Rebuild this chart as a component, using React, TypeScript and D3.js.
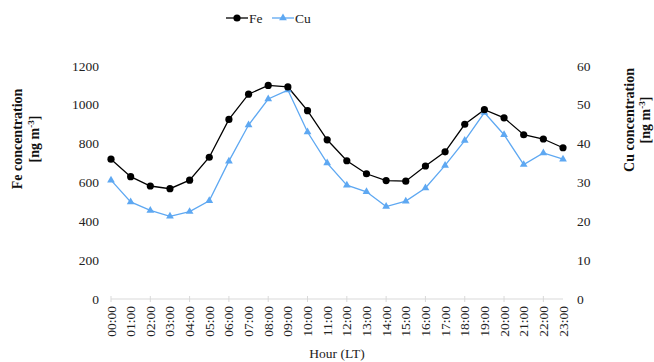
import React, { useEffect, useRef } from "react";
import * as d3 from "d3";

const hours = ["00:00","01:00","02:00","03:00","04:00","05:00","06:00","07:00","08:00","09:00","10:00","11:00","12:00","13:00","14:00","15:00","16:00","17:00","18:00","19:00","20:00","21:00","22:00","23:00"];
const feValues = [720, 630, 582, 568, 612, 730, 925, 1055, 1100, 1092, 970, 820, 712, 645, 610, 607, 685, 758, 900, 975, 933, 846, 824, 779];
const cuValues = [30.6, 25.0, 22.8, 21.3, 22.5, 25.3, 35.5, 44.8, 51.5, 53.8, 43.0, 35.0, 29.3, 27.6, 23.8, 25.2, 28.6, 34.4, 40.8, 48.0, 42.3, 34.6, 37.6, 36.0];
const leftTicks = [0, 200, 400, 600, 800, 1000, 1200];
const rightTicks = [0, 10, 20, 30, 40, 50, 60];

const FONT = "Liberation Serif, Times New Roman, serif";
const CU_COLOR = "#5ea8f2";

export default function App() {
  const ref = useRef<SVGSVGElement>(null);
  useEffect(() => {
    const svg = d3.select(ref.current);
    svg.selectAll("*").remove();
    const x0 = 111, x1 = 563, yTop = 66, yBot = 299;
    const x = d3.scalePoint<string>().domain(hours).range([x0, x1]);
    const yL = d3.scaleLinear().domain([0, 1200]).range([yBot, yTop]);
    const yR = d3.scaleLinear().domain([0, 60]).range([yBot, yTop]);

    svg.append("line").attr("x1", x0).attr("x2", x1).attr("y1", yBot).attr("y2", yBot)
      .attr("stroke", "#d9d9d9").attr("stroke-width", 1);
    hours.forEach((h, i) => {
      if (i % 2 === 0) {
        svg.append("line").attr("x1", x(h)!).attr("x2", x(h)!).attr("y1", yBot - 3).attr("y2", yBot + 3)
          .attr("stroke", "#d9d9d9").attr("stroke-width", 1);
      }
      svg.append("text").attr("transform", `translate(${x(h)! + 4.5},${yBot + 7}) rotate(-90)`)
        .attr("text-anchor", "end").attr("font-family", FONT).attr("font-size", 13.5)
        .attr("fill", "#222").text(h);
    });

    leftTicks.forEach(t => {
      svg.append("text").attr("x", 99).attr("y", yL(t) + 4.5).attr("text-anchor", "end")
        .attr("font-family", FONT).attr("font-size", 13.5).attr("fill", "#222").text(String(t));
    });
    rightTicks.forEach(t => {
      svg.append("text").attr("x", 577).attr("y", yR(t) + 4.5).attr("text-anchor", "start")
        .attr("font-family", FONT).attr("font-size", 13.5).attr("fill", "#222").text(String(t));
    });

    const title = (cx: number, cy: number, l1: string, gap: number) => {
      const g = svg.append("g").attr("transform", `translate(${cx},${cy}) rotate(-90)`);
      const t = g.append("text").attr("text-anchor", "middle").attr("font-family", FONT)
        .attr("font-size", 14).attr("font-weight", "bold").attr("fill", "#111");
      t.append("tspan").attr("x", 0).attr("y", 0).text(l1);
      const t2 = t.append("tspan").attr("x", 0).attr("y", gap);
      t2.append("tspan").text("[ng m");
      t2.append("tspan").attr("font-size", 9).attr("dy", -5).text("-3");
      t2.append("tspan").attr("dy", 5).text("]");
    };
    title(22, 139, "Fe concentration", 17);
    title(634, 120, "Cu concentration", 16);

    svg.append("text").attr("x", 337).attr("y", 358).attr("text-anchor", "middle")
      .attr("font-family", FONT).attr("font-size", 13.5).attr("fill", "#222").text("Hour (LT)");

    const feLine = d3.line<number>().x((_, i) => x(hours[i])!).y(d => yL(d));
    const cuLine = d3.line<number>().x((_, i) => x(hours[i])!).y(d => yR(d));
    svg.append("path").attr("d", cuLine(cuValues)!).attr("fill", "none").attr("stroke", CU_COLOR).attr("stroke-width", 1.3);
    svg.append("path").attr("d", feLine(feValues)!).attr("fill", "none").attr("stroke", "#000").attr("stroke-width", 1.3);

    const tri = d3.symbol().type(d3.symbolTriangle).size(26);
    cuValues.forEach((v, i) => {
      svg.append("path").attr("d", tri()!).attr("transform", `translate(${x(hours[i])},${yR(v)})`).attr("fill", CU_COLOR);
    });
    feValues.forEach((v, i) => {
      svg.append("circle").attr("cx", x(hours[i])!).attr("cy", yL(v)).attr("r", 3.6).attr("fill", "#000");
    });

    const ly = 18;
    svg.append("line").attr("x1", 226).attr("x2", 248).attr("y1", ly).attr("y2", ly).attr("stroke", "#000").attr("stroke-width", 1.3);
    svg.append("circle").attr("cx", 237).attr("cy", ly).attr("r", 3.6).attr("fill", "#000");
    svg.append("text").attr("x", 249).attr("y", ly + 4.5).attr("font-family", FONT).attr("font-size", 13.5).attr("fill", "#222").text("Fe");
    svg.append("line").attr("x1", 272).attr("x2", 294).attr("y1", ly).attr("y2", ly).attr("stroke", CU_COLOR).attr("stroke-width", 1.3);
    svg.append("path").attr("d", tri()!).attr("transform", `translate(283,${ly})`).attr("fill", CU_COLOR);
    svg.append("text").attr("x", 295).attr("y", ly + 4.5).attr("font-family", FONT).attr("font-size", 13.5).attr("fill", "#222").text("Cu");
  }, []);
  return (
    <svg ref={ref} width={654} height={362} style={{ position: "absolute", left: 0, top: 0, background: "#fff" }} />
  );
}
